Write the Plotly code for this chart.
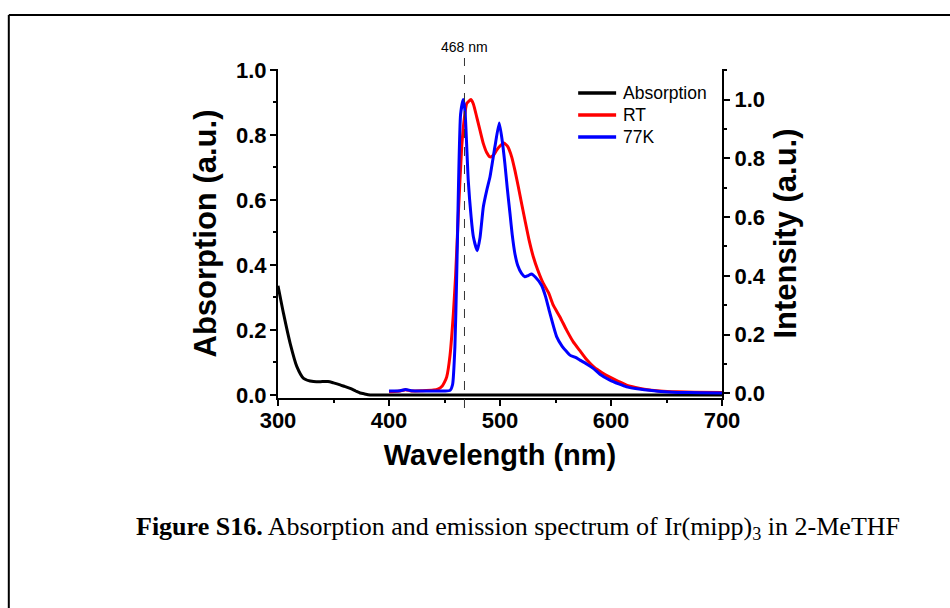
import plotly.graph_objects as go

# ---------------- data ----------------
abs_wl = [300, 305, 311, 317, 323, 332, 340, 345, 350, 356, 360, 365, 370, 374, 378, 383, 390, 400, 500, 600, 700]
abs_val = [0.336, 0.25, 0.158, 0.087, 0.051, 0.041, 0.041, 0.041, 0.037, 0.031, 0.026, 0.02, 0.012, 0.006, 0.003, 0.0, 0.0, 0.0, 0.0, 0.0, 0.0]

rt_wl = [400, 405, 410, 415, 420, 430, 440, 444, 448, 450, 452, 455, 458, 460, 462.5, 465.5, 468, 470, 473.8, 476, 479,
         482, 485, 488, 491, 494, 497, 500, 503.5, 507, 510.5, 513.5, 516.5, 519.5, 522.5, 526, 530, 534, 539,
         544, 548, 554, 560, 566, 572, 578, 585, 592, 599, 607, 614, 622, 630, 644, 660, 675, 700]
rt_val = [0.005, 0.006, 0.008, 0.012, 0.008, 0.009, 0.011, 0.014, 0.025, 0.038, 0.056, 0.13, 0.272, 0.40, 0.612, 0.839, 0.94,
          0.986, 1.0, 0.985, 0.941, 0.895, 0.85, 0.82, 0.805, 0.81, 0.828, 0.842, 0.852, 0.84, 0.805, 0.758,
          0.703, 0.645, 0.589, 0.525, 0.465, 0.42, 0.374, 0.34, 0.30, 0.26, 0.215, 0.175, 0.145, 0.115, 0.088,
          0.07, 0.055, 0.04, 0.028, 0.02, 0.014, 0.008, 0.005, 0.004, 0.003]

k77_wl = [400, 405, 410, 415, 420, 430, 440, 450, 455, 457.3, 459.4, 460.9, 461.8, 462.7, 464.5, 466.9, 468.5,
          471.4, 474, 476, 479.5, 482, 485, 488, 491, 495.4, 499.3, 502, 504.4, 506.5, 509, 511, 513.4, 516,
          519.4, 522.4, 525, 528.4, 532, 537.4, 541, 545, 551, 556, 560, 563, 568, 572, 578, 584, 590, 599,
          607, 614, 622, 630, 645, 660, 680, 700]
k77_val = [0.008, 0.008, 0.009, 0.013, 0.009, 0.008, 0.008, 0.008, 0.01, 0.03, 0.16, 0.385, 0.55, 0.725, 0.95,
           1.0, 0.96, 0.725, 0.6, 0.533, 0.485, 0.53, 0.635, 0.69, 0.737, 0.839, 0.92, 0.86, 0.782, 0.70,
           0.612, 0.54, 0.476, 0.435, 0.408, 0.397, 0.40, 0.406, 0.395, 0.368, 0.33, 0.272, 0.193, 0.16,
           0.142, 0.13, 0.122, 0.113, 0.10, 0.085, 0.065, 0.045, 0.032, 0.022, 0.016, 0.012, 0.006, 0.003,
           0.002, 0.001]

series_names = ["Absorption", "RT", "77K"]
series_colors = ["black", "#ff0000", "#0000ff"]

peak_nm = 468
x_ticks = [300, 400, 500, 600, 700]
y_ticks = [0.0, 0.2, 0.4, 0.6, 0.8, 1.0]

# ---------------- layout geometry ----------------
W, H = 950, 608
L, R, T, B = 277.5, 722, 69, 398
PW, PH = R - L, B - T


def px(xp):
    return (xp - L) / PW


def py(yp):
    return (B - yp) / PH


SANS = "Liberation Sans, Arial, sans-serif"
SERIF = "Liberation Serif, Times New Roman, serif"

fig = go.Figure()
fig.add_trace(go.Scatter(x=abs_wl, y=abs_val, name=series_names[0], mode="lines",
                         line=dict(color=series_colors[0], width=3, shape="spline", smoothing=0.6), yaxis="y"))
fig.add_trace(go.Scatter(x=rt_wl, y=rt_val, name=series_names[1], mode="lines",
                         line=dict(color=series_colors[1], width=3, shape="spline", smoothing=0.5), yaxis="y2"))
fig.add_trace(go.Scatter(x=k77_wl, y=k77_val, name=series_names[2], mode="lines",
                         line=dict(color=series_colors[2], width=3, shape="spline", smoothing=0.5), yaxis="y2"))

tickfont = dict(family=SANS, size=22, color="black", weight="bold")
xtitlefont = dict(family=SANS, size=29, color="black", weight="bold")
ytitlefont = dict(family=SANS, size=31, color="black", weight="bold")
minor_out = dict(ticks="outside", ticklen=3, tickwidth=1.5, tickcolor="black")

fig.update_layout(
    width=W, height=H,
    margin=dict(l=L, r=W - R, t=T, b=H - B, pad=0),
    paper_bgcolor="white", plot_bgcolor="white",
    showlegend=False,
    xaxis=dict(range=[300, 700], tickvals=x_ticks, ticks="outside", ticklen=6, tickwidth=1.5,
               tickcolor="black", showline=True, linewidth=2, linecolor="black", showgrid=False,
               zeroline=False, tickfont=tickfont, minor=dict(dtick=50, **minor_out),
               ticklabelstandoff=-4,
               title=dict(text="Wavelength (nm)", font=xtitlefont, standoff=12)),
    xaxis2=dict(range=[300, 700], overlaying="x", side="top", anchor="y", dtick=50,
                ticks="inside", ticklen=5, tickwidth=1.5, tickcolor="black", showticklabels=False,
                showline=True, linewidth=2, linecolor="black", showgrid=False, zeroline=False),
    yaxis=dict(range=[-0.0095, 1.003], tickvals=y_ticks, tickformat=".1f", ticks="outside", ticklen=6,
               tickwidth=1.5, tickcolor="black", showline=True, linewidth=2, linecolor="black",
               showgrid=False, zeroline=False, tickfont=tickfont, minor=dict(dtick=0.1, **minor_out),
               ticklabelstandoff=-1,
               title=dict(text="Absorption (a.u.)", font=ytitlefont, standoff=10)),
    yaxis2=dict(range=[-0.016, 1.104], overlaying="y", side="right", anchor="x", tickvals=y_ticks,
                tickformat=".1f", ticks="outside", ticklen=6, tickwidth=1.5, tickcolor="black",
                showline=True, linewidth=2, linecolor="black", showgrid=False, zeroline=False,
                tickfont=tickfont, minor=dict(dtick=0.1, **minor_out),
                title=dict(text="Intensity (a.u.)", font=ytitlefont, standoff=10)),
)

# legend (drawn as line samples + text to match the reference spacing)
leg_rows_y = [93, 115, 137]
for name, color, ry in zip(series_names, series_colors, leg_rows_y):
    fig.add_shape(type="line", xref="paper", yref="paper", x0=px(578), x1=px(616), y0=py(ry), y1=py(ry),
                  line=dict(color=color, width=3.5))
    fig.add_annotation(x=px(621), xref="paper", y=py(ry), yref="paper", text=name, showarrow=False,
                       font=dict(family=SANS, size=17.5, color="black"), xanchor="left", yanchor="middle")

# dashed marker line at the 77K peak
fig.add_shape(type="line", xref="x", yref="paper", x0=peak_nm, x1=peak_nm, y0=py(408), y1=py(58),
              line=dict(color="#333333", width=1, dash="dash"))
fig.add_annotation(x=peak_nm, xref="x", y=py(47), yref="paper", text=f"{peak_nm} nm", showarrow=False,
                   font=dict(family=SANS, size=14, color="black"), xanchor="center", yanchor="middle")

# caption
fig.add_annotation(x=px(518), xref="paper", y=py(528), yref="paper",
                   text="<b>Figure S16.</b> Absorption and emission spectrum of Ir(mipp)<sub>3</sub> in 2-MeTHF",
                   showarrow=False, font=dict(family=SERIF, size=26, color="black"),
                   xanchor="center", yanchor="middle")

# page frame (top and left edges visible)
fig.add_shape(type="line", xref="paper", yref="paper", x0=px(8), x1=px(960), y0=py(15), y1=py(15),
              line=dict(color="black", width=2))
fig.add_shape(type="line", xref="paper", yref="paper", x0=px(8), x1=px(8), y0=py(15), y1=py(620),
              line=dict(color="black", width=2))

fig.write_html("out.html")
